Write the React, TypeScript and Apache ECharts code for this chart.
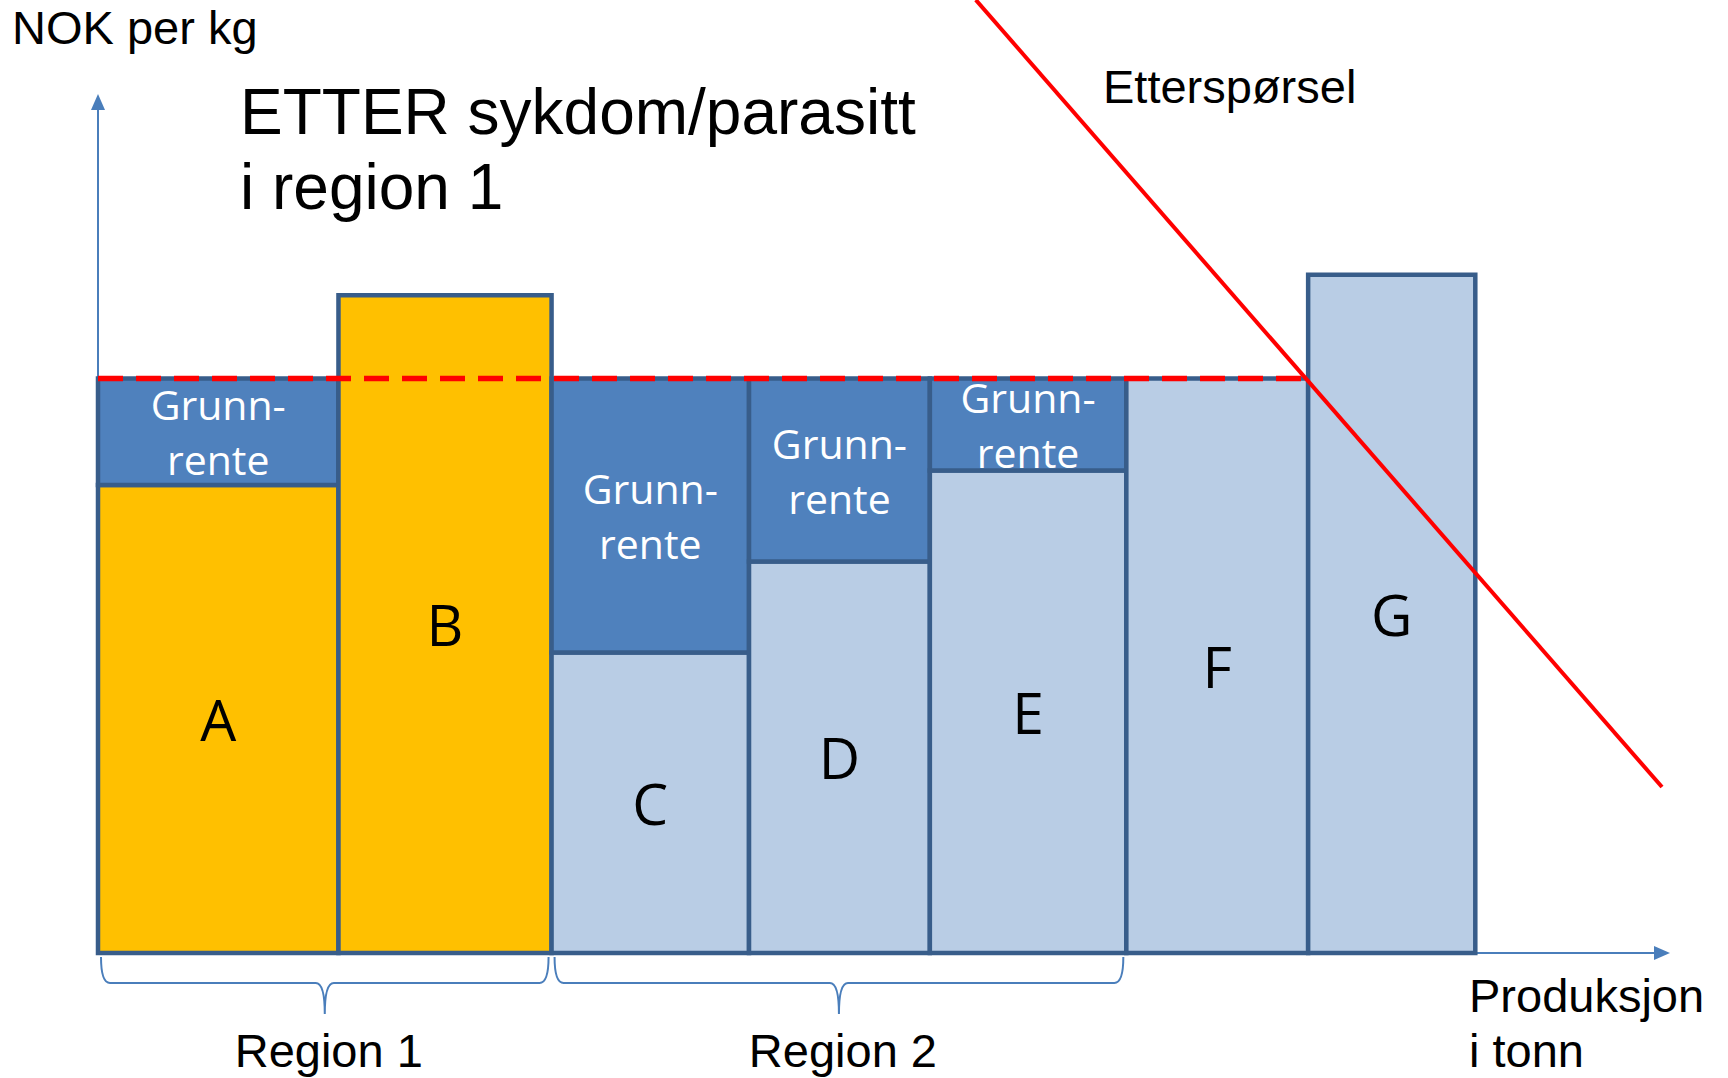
import React, { useEffect, useRef } from 'react';
import * as echarts from 'echarts';

// ---- data ----
const producers = ['A', 'B', 'C', 'D', 'E', 'F', 'G'];
const production = [24.6, 21.8, 20.2, 18.5, 20.1, 18.6, 17.1]; // width of each bar (tonn)
const unitCost = [55.0, 77.3, 35.3, 46.0, 56.7, 67.5, 79.7]; // NOK per kg
const affected = [true, true, false, false, false, false, false]; // region 1 (sykdom/parasitt)
const marketPrice = 67.5;
const regionNames = ['Region 1', 'Region 2'];
const regionMembers = [['A', 'B'], ['C', 'D', 'E']];
const demandQuantity = [89.8, 160.0];
const demandPrice = [112.0, 19.5];
const rentLabel = 'Grunn-\nrente';
const yAxisTitle = 'NOK per kg';
const xAxisTitle = 'Produksjon\ni tonn';
const chartTitle = 'ETTER sykdom/parasitt\ni region 1';
const demandTitle = 'Etterspørsel';

const ARIAL = "'Liberation Sans', Arial, sans-serif";
const CAL = "'Open Sans', 'Noto Sans', sans-serif";
const YELLOW = '#FFC000';
const LIGHT = '#B9CDE5';
const RENT = '#4F81BD';
const BORDER = '#385D8A';
const AXIS = '#4A7EBB';

export default function App() {
  const ref = useRef<HTMLDivElement>(null);
  useEffect(() => {
    if (!ref.current) return;
    const chart = echarts.init(ref.current, null, { renderer: 'svg' });

    const starts: number[] = [];
    let acc = 0;
    production.forEach((w) => {
      starts.push(acc);
      acc += w;
    });
    const barData = producers.map((_, i) => [starts[i], starts[i] + production[i], unitCost[i]]);
    let priceEnd = 0;
    producers.forEach((_, i) => {
      if (unitCost[i] <= marketPrice) priceEnd = starts[i] + production[i];
    });
    const braceData = regionMembers.map((m) => {
      const a = producers.indexOf(m[0]);
      const b = producers.indexOf(m[m.length - 1]);
      return [starts[a], starts[b] + production[b]];
    });

    const option: any = {
      animation: false,
      title: {
        text: chartTitle,
        left: 240,
        top: 74,
        padding: 0,
        textStyle: { fontSize: 64, fontWeight: 'normal', fontFamily: ARIAL, color: '#000', lineHeight: 75 },
      },
      grid: { left: 98, right: 66, top: 102, bottom: 125, containLabel: false },
      xAxis: {
        type: 'value',
        min: 0,
        max: 160,
        axisLine: { show: true, symbol: ['none', 'triangle'], symbolSize: [14, 16], lineStyle: { color: AXIS, width: 2 } },
        axisTick: { show: false },
        axisLabel: { show: false },
        splitLine: { show: false },
      },
      yAxis: {
        type: 'value',
        min: 0,
        max: 100,
        axisLine: { show: true, symbol: ['none', 'triangle'], symbolSize: [14, 16], lineStyle: { color: AXIS, width: 2 } },
        axisTick: { show: false },
        axisLabel: { show: false },
        splitLine: { show: false },
      },
      graphic: [
        {
          type: 'text', x: 12, y: 27.5,
          style: { text: yAxisTitle, fontSize: 47, fontFamily: ARIAL, fill: '#000', align: 'left', textAlign: 'left', verticalAlign: 'middle', textVerticalAlign: 'middle' },
        },
        {
          type: 'text', x: 1103, y: 86.5,
          style: { text: demandTitle, fontSize: 47, fontFamily: ARIAL, fill: '#000', align: 'left', textAlign: 'left', verticalAlign: 'middle', textVerticalAlign: 'middle' },
        },
        {
          type: 'text', x: 1469, y: 1023,
          style: { text: xAxisTitle, fontSize: 47, lineHeight: 55, fontFamily: ARIAL, fill: '#000', align: 'left', textAlign: 'left', verticalAlign: 'middle', textVerticalAlign: 'middle' },
        },
      ],
      series: [
        {
          type: 'custom',
          clip: false,
          data: barData,
          encode: { x: [0, 1], y: 2 },
          renderItem: (params: any, api: any) => {
            const i = params.dataIndex;
            const x0 = api.value(0);
            const x1 = api.value(1);
            const c = api.value(2);
            const bl = api.coord([x0, 0]);
            const tr = api.coord([x1, c]);
            const w = tr[0] - bl[0];
            const cx = bl[0] + w / 2;
            const children: any[] = [
              {
                type: 'rect',
                shape: { x: bl[0], y: tr[1], width: w, height: bl[1] - tr[1] },
                style: { fill: affected[i] ? YELLOW : LIGHT, stroke: BORDER, lineWidth: 4.5 },
              },
              {
                type: 'text',
                style: {
                  text: producers[i], x: cx, y: (bl[1] + tr[1]) / 2,
                  align: 'center', textAlign: 'center', verticalAlign: 'middle', textVerticalAlign: 'middle',
                  fill: '#000', fontSize: 57, fontFamily: CAL,
                },
              },
            ];
            if (c < marketPrice) {
              const pt = api.coord([x1, marketPrice]);
              children.push({
                type: 'rect',
                shape: { x: bl[0], y: pt[1], width: w, height: tr[1] - pt[1] },
                style: { fill: RENT, stroke: BORDER, lineWidth: 4.5 },
              });
              children.push({
                type: 'text',
                style: {
                  text: rentLabel, x: cx, y: (pt[1] + tr[1]) / 2,
                  align: 'center', textAlign: 'center', verticalAlign: 'middle', textVerticalAlign: 'middle',
                  fill: '#FFFFFF', fontSize: 41, lineHeight: 55, fontFamily: CAL,
                },
              });
            }
            return { type: 'group', children };
          },
          z: 2,
        },
        {
          type: 'custom',
          clip: false,
          data: braceData,
          encode: { x: [0, 1] },
          renderItem: (params: any, api: any) => {
            const a = api.coord([api.value(0), 0]);
            const b = api.coord([api.value(1), 0]);
            const x0 = a[0] + 3;
            const x1 = b[0] - 3;
            const y0 = a[1] + 4;
            const y1 = y0 + 26;
            const y2 = y1 + 31;
            const xc = (x0 + x1) / 2;
            const r = 9;
            const d =
              `M${x0},${y0} Q${x0},${y1} ${x0 + r},${y1} L${xc - r},${y1} Q${xc},${y1} ${xc},${y2} ` +
              `Q${xc},${y1} ${xc + r},${y1} L${x1 - r},${y1} Q${x1},${y1} ${x1},${y0}`;
            return {
              type: 'group',
              children: [
                { type: 'path', shape: { pathData: d }, style: { fill: 'none', stroke: AXIS, lineWidth: 2 } },
                {
                  type: 'text',
                  style: {
                    text: regionNames[params.dataIndex], x: xc + 4, y: a[1] + 97,
                    align: 'center', textAlign: 'center', verticalAlign: 'middle', textVerticalAlign: 'middle',
                    fill: '#000', fontSize: 47, fontFamily: ARIAL,
                  },
                },
              ],
            };
          },
          z: 2,
        },
        {
          type: 'line',
          data: [[0, marketPrice], [priceEnd, marketPrice]],
          symbol: 'none',
          silent: true,
          lineStyle: { color: '#FF0000', width: 5.5, type: [25, 13] },
          z: 5,
        },
        {
          type: 'line',
          data: demandQuantity.map((q, i) => [q, demandPrice[i]]),
          symbol: 'none',
          silent: true,
          clip: false,
          lineStyle: { color: '#FF0000', width: 4 },
          z: 6,
        },
      ],
    };
    chart.setOption(option);
    return () => chart.dispose();
  }, []);
  return (
    <div
      ref={ref}
      style={{ position: 'fixed', left: 0, top: 0, width: 1728, height: 1078, background: '#fff' }}
    />
  );
}
